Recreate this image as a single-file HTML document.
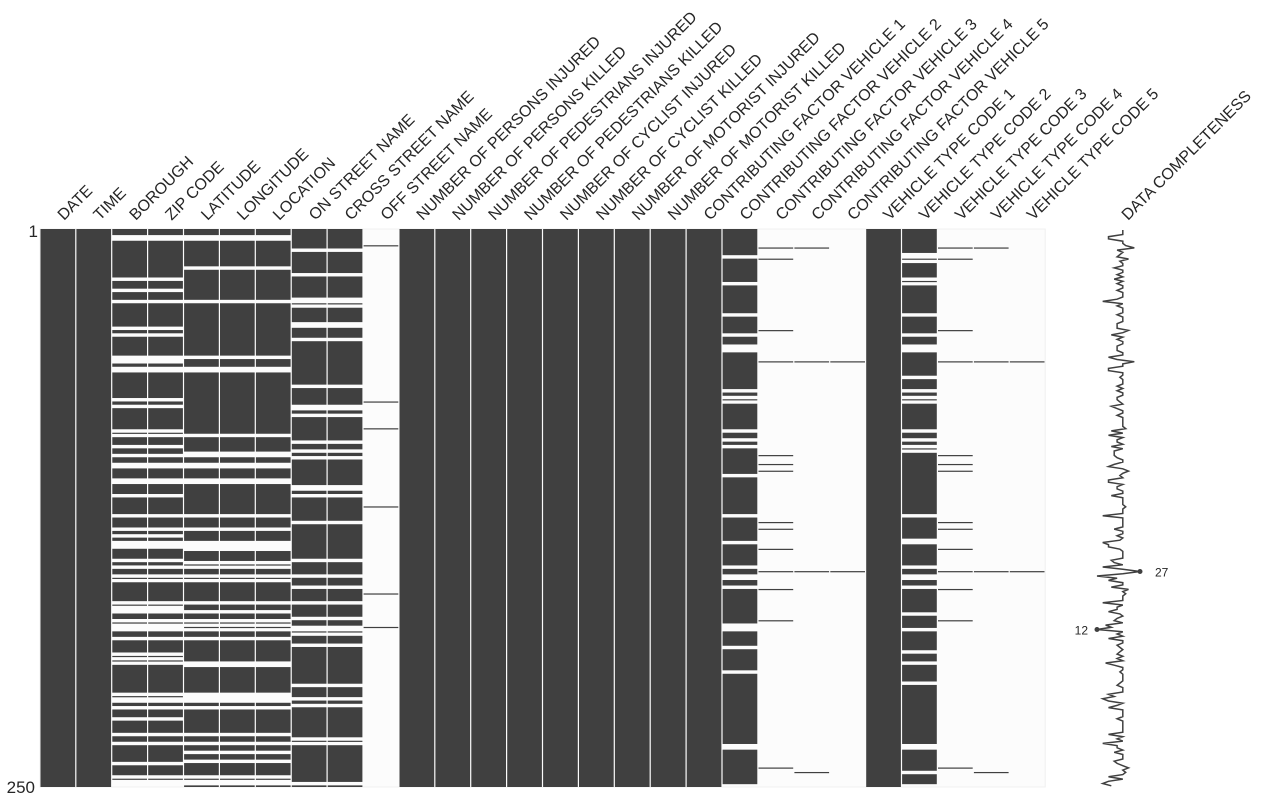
<!DOCTYPE html>
<html><head><meta charset="utf-8"><style>
html,body{margin:0;padding:0;background:#fff;width:1264px;height:793px;overflow:hidden}
svg{display:block;font-family:"Liberation Sans",Arial,sans-serif}
</style></head><body>
<svg id="s" width="1264" height="793" xmlns="http://www.w3.org/2000/svg"></svg>
<script>
var cols=["DATE","TIME","BOROUGH","ZIP CODE","LATITUDE","LONGITUDE","LOCATION","ON STREET NAME","CROSS STREET NAME","OFF STREET NAME","NUMBER OF PERSONS INJURED","NUMBER OF PERSONS KILLED","NUMBER OF PEDESTRIANS INJURED","NUMBER OF PEDESTRIANS KILLED","NUMBER OF CYCLIST INJURED","NUMBER OF CYCLIST KILLED","NUMBER OF MOTORIST INJURED","NUMBER OF MOTORIST KILLED","CONTRIBUTING FACTOR VEHICLE 1","CONTRIBUTING FACTOR VEHICLE 2","CONTRIBUTING FACTOR VEHICLE 3","CONTRIBUTING FACTOR VEHICLE 4","CONTRIBUTING FACTOR VEHICLE 5","VEHICLE TYPE CODE 1","VEHICLE TYPE CODE 2","VEHICLE TYPE CODE 3","VEHICLE TYPE CODE 4","VEHICLE TYPE CODE 5"];
var N=250,X0=40,CW=35.9,Y0=229,RH=558/250;
var seed=12345;function rnd(){seed=(seed*1103515245+12345)%2147483648;return seed/2147483648;}
var M=[];for(var r=0;r<N;r++){M.push(new Array(28).fill(1));}
var cf2=[8,13,45,59,101,105,108,131,134,143,153,161,175,241],cf3=[8,59,153,243],cf4=[59,153];
for(var r=0;r<N;r++){
 var a=rnd()<0.24, b=a&&rnd()<0.6 || (!a&&rnd()<0.05), c=rnd()<0.13;
 if(r==153){a=b=c=false;}
 if(r==179){a=b=c=true;}
 if(a){M[r][2]=0;M[r][3]=0;}
 if(b){M[r][4]=M[r][5]=M[r][6]=0;}
 if(c){M[r][7]=M[r][8]=0;}
 M[r][9]=([7,77,89,124,163,178].indexOf(r)>=0)?1:0;
 var f1=rnd()<0.1; if(r==153)f1=false; if(r==179)f1=true;
 M[r][19]=f1?0:1; M[r][24]=(f1&&rnd()<0.8)||(!f1&&rnd()<0.04)?0:1; if(r==153)M[r][24]=1;
 M[r][20]=M[r][25]=cf2.indexOf(r)>=0?1:0;
 M[r][21]=M[r][26]=cf3.indexOf(r)>=0?1:0;
 M[r][22]=M[r][27]=cf4.indexOf(r)>=0?1:0;
}
var h='<rect x="'+X0+'" y="'+Y0+'" width="'+(28*CW)+'" height="558" fill="#fcfcfc" stroke="#f0f0f0" stroke-width="1"/>';
for(var i=0;i<28;i++){
 var x=X0+i*CW;var r=0;
 while(r<N){ if(!M[r][i]){r++;continue;} var s=r; while(r<N&&M[r][i])r++;
  var y1=Y0+s*RH,y2=Y0+r*RH; if(s>0)y1+=0.6; if(r<N)y2-=0.6;
  h+='<rect x="'+(x+0.5).toFixed(1)+'" y="'+y1.toFixed(2)+'" width="'+(CW-1.2).toFixed(1)+'" height="'+Math.max(1.2,y2-y1).toFixed(2)+'" fill="#404040"/>';}
 var cx=x+CW/2+6;
 h+='<text transform="translate('+cx.toFixed(1)+',221) rotate(-45)" font-size="16" fill="#262626">'+cols[i]+'</text>';
}
h+='<text transform="translate(1128,221) rotate(-45)" font-size="16" fill="#262626">DATA COMPLETENESS</text>';
h+='<text x="38" y="237" font-size="17" text-anchor="end" fill="#262626">1</text>';
h+='<text x="35" y="793" font-size="17" text-anchor="end" fill="#262626">250</text>';
var pts=[];for(var r=0;r<N;r++){var v=M[r].reduce(function(a,b){return a+b},0);var px=1097+(v-12)*43/15;pts.push(px.toFixed(1)+','+(Y0+r*RH+1).toFixed(1));}
h+='<polyline points="'+pts.join(' ')+'" fill="none" stroke="#404040" stroke-width="1.5"/>';
var y27=Y0+153*RH+1,y12=Y0+179*RH+1;
h+='<circle cx="1140" cy="'+y27+'" r="2.5" fill="#404040"/><text x="1155" y="'+(y27+5)+'" font-size="12" fill="#262626">27</text>';
h+='<circle cx="1097" cy="'+y12+'" r="2.5" fill="#404040"/><text x="1088" y="'+(y12+5)+'" font-size="12" text-anchor="end" fill="#262626">12</text>';
document.getElementById('s').innerHTML=h;
</script>
</body></html>
